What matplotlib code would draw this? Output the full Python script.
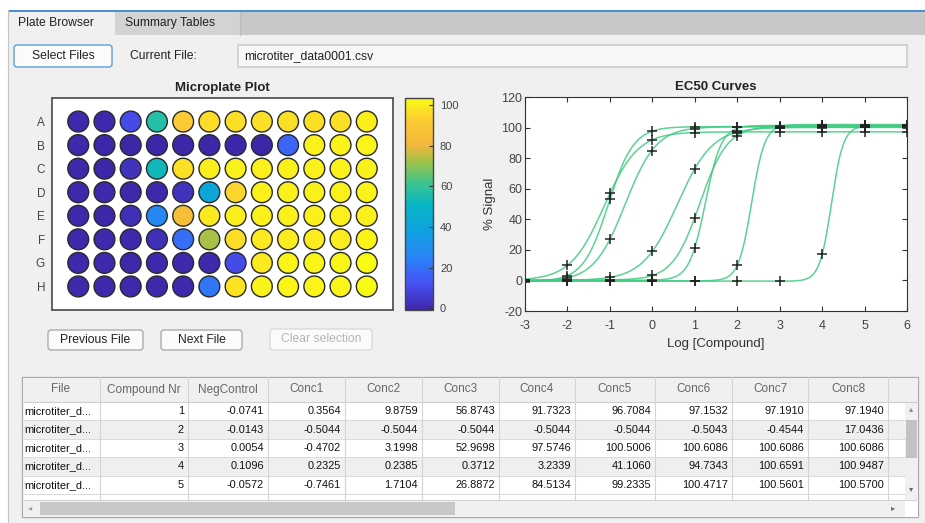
import numpy as np
import matplotlib
matplotlib.use("Agg")
import matplotlib.pyplot as plt
from matplotlib.colors import LinearSegmentedColormap
from matplotlib.patches import Rectangle, FancyBboxPatch

plt.rcParams['font.family'] = ['Liberation Sans', 'DejaVu Sans']
plt.rcParams['axes.unicode_minus'] = False

# ---- values ----
rows = ['A', 'B', 'C', 'D', 'E', 'F', 'G', 'H']
log_conc = [-3, -2, -1, 0, 1, 2, 3, 4, 5, 6]
compound_nr = [1, 2, 3, 4, 5, 6, 7, 8]

neg_control = [-0.0741, -0.0143, 0.0054, 0.1096, -0.0572, 0.2100, -0.1200, 0.0800]
conc = [
    [0.3564, 9.8759, 56.8743, 91.7323, 96.7084, 97.1532, 97.1910, 97.1940, 97.1942, 97.1942],
    [-0.5044, -0.5044, -0.5044, -0.5044, -0.5044, -0.5043, -0.4544, 17.0436, 100.6000, 101.1000],
    [-0.4702, 3.1998, 52.9698, 97.5746, 100.5006, 100.6086, 100.6086, 100.6086, 100.6086, 100.6086],
    [0.2325, 0.2385, 0.3712, 3.2339, 41.1060, 94.7343, 100.6591, 100.9487, 100.9512, 100.9513],
    [-0.7461, 1.7104, 26.8872, 84.5134, 99.2335, 100.4717, 100.5601, 100.5700, 100.5701, 100.5701],
    [0.0500, 0.3100, 2.0000, 19.3000, 73.1000, 96.5000, 99.6000, 100.0000, 100.1000, 100.1000],
    [-0.3000, -0.3000, -0.3000, -0.3000, -0.2000, 10.2000, 99.4000, 101.9000, 102.0000, 102.0000],
    [0.1000, 0.1000, 0.1000, 0.3000, 21.4000, 97.8000, 101.2000, 101.4000, 101.4000, 101.4000],
]
pos_control = [100.4, 101.8, 100.9, 101.2, 100.7, 101.5, 103.4, 102.6]

# 4-parameter logistic fits as they appear on the EC50 plot
fit_bottom = [0.0, -0.5, -0.5, 0.23, -0.75, 0.0, -0.3, 0.1]
fit_top = [97.2, 101.1, 100.6, 101.0, 100.6, 100.1, 102.0, 101.4]
fit_logec50 = [-1.136, 4.22, -1.034, 1.123, -0.639, 0.593, 2.34, 1.25]
fit_hill = [1.095, 3.1, 1.47, 1.347, 1.179, 1.061, 2.8, 2.3]

table_cols = ['File', 'Compound Nr', 'NegControl', 'Conc1', 'Conc2', 'Conc3',
              'Conc4', 'Conc5', 'Conc6', 'Conc7', 'Conc8']
table_nrows = 5
file_short = 'microtiter_d...'
current_file = 'microtiter_data0001.csv'

# parula-like colormap
parula = LinearSegmentedColormap.from_list('parula', [
    (0.00, (0.2422, 0.1504, 0.6603)), (0.125, (0.2810, 0.3228, 0.9579)),
    (0.25, (0.1540, 0.5220, 0.9660)), (0.375, (0.0590, 0.6330, 0.8740)),
    (0.50, (0.0290, 0.7130, 0.7640)), (0.60, (0.2450, 0.7700, 0.5500)),
    (0.70, (0.6200, 0.7600, 0.2800)), (0.78, (0.9600, 0.7200, 0.2400)),
    (0.90, (0.9900, 0.8000, 0.2000)), (1.00, (0.9769, 0.9839, 0.0805))])

W, H = 925, 523
fig = plt.figure(figsize=(W / 100, H / 100), dpi=100, facecolor='white')

# background "window" drawn in pixel coordinates
bg = fig.add_axes([0, 0, 1, 1])
bg.set_xlim(0, W)
bg.set_ylim(H, 0)
bg.axis('off')


def box(x0, y0, x1, y1, **kw):
    bg.add_patch(Rectangle((x0, y0), x1 - x0, y1 - y0, **kw))


def button(x0, y0, x1, y1, label, edge='#adadad', tc='#222222'):
    bg.add_patch(FancyBboxPatch((x0, y0), x1 - x0, y1 - y0,
                                boxstyle='round,pad=0,rounding_size=3',
                                fc='#fbfbfb', ec=edge, lw=1.0))
    bg.text((x0 + x1) / 2, (y0 + y1) / 2, label, ha='center', va='center',
            fontsize=8.7, color=tc)


def px_axes(x0, y0, x1, y1):
    return fig.add_axes([x0 / W, 1 - y1 / H, (x1 - x0) / W, (y1 - y0) / H])


box(8, 10, W, 12, fc='#4a8fd6', lw=0)
box(8, 12, W, 35, fc='#c8c8c8', lw=0)
box(115, 12, 240, 35, fc='#d3d3d3', lw=0)
bg.plot([240, 240], [12, 35], color='#bdbdbd', lw=0.8)
box(8, 12, 115, 36, fc='#f0f0f0', lw=0)
box(8, 35, W, H, fc='#f0f0f0', lw=0)
bg.plot([8, 8], [10, H], color='#c4c4c4', lw=0.8)
bg.text(18, 23, 'Plate Browser', fontsize=8.7, va='center', color='#222222')
bg.text(125, 23, 'Summary Tables', fontsize=8.7, va='center', color='#222222')

button(14, 45, 112, 67, 'Select Files', edge='#5a9fe0')
bg.text(130, 56, 'Current File:', fontsize=8.7, va='center', color='#222222')
box(238, 45, 907, 67, fc='#f7f7f7', ec='#d2d2d2', lw=1.4)
bg.text(244, 56, current_file, fontsize=8.7, va='center', color='#222222')

button(48, 330, 143, 350, 'Previous File')
button(161, 330, 242, 350, 'Next File')
button(270, 329, 372, 350, 'Clear selection', edge='#dadada', tc='#b4b4b4')

# ---- microplate ----
ax_p = px_axes(52, 98, 393, 310)
plate = np.column_stack([neg_control, np.array(conc), pos_control])
xx, yy = np.meshgrid(np.arange(1, 13), np.arange(1, len(rows) + 1))
sc = ax_p.scatter(xx.ravel(), yy.ravel(), c=plate.ravel(), cmap=parula,
                  s=225, edgecolors='#2a2a2a', linewidths=1.0)
ax_p.set_xlim(0, 13)
ax_p.set_ylim(9, 0)
ax_p.set_xticks([])
ax_p.set_yticks(range(1, len(rows) + 1))
ax_p.set_yticklabels(rows)
ax_p.tick_params(axis='y', length=0, pad=5, labelsize=8.5, labelcolor='#444444')
for s in ax_p.spines.values():
    s.set_color('#555555')
    s.set_linewidth(1.3)
ax_p.set_title('Microplate Plot', fontsize=9.5, fontweight='bold', pad=5, color='#222222')

cax = px_axes(405, 98, 433, 310)
cb = fig.colorbar(sc, cax=cax)
cb.set_ticks([0, 20, 40, 60, 80, 100])
cax.tick_params(direction='in', length=3, width=0.8, pad=5, labelsize=8,
                labelcolor='#444444', color='#333333')
cb.outline.set_edgecolor('#444444')
cb.outline.set_linewidth(1.0)

# ---- EC50 curves ----
ax_c = px_axes(525, 97, 907, 311)
xs = np.linspace(-3, 6, 500)
for i in range(len(compound_nr)):
    ys = fit_bottom[i] + (fit_top[i] - fit_bottom[i]) / (1 + 10 ** ((fit_logec50[i] - xs) * fit_hill[i]))
    ax_c.plot(xs, ys, color='#3fcb80', lw=1.1, alpha=0.85)
for i in range(len(compound_nr)):
    ax_c.plot(log_conc, conc[i], '+', color='#222222', ms=7, mew=1.1)
ax_c.set_xlim(-3, 6)
ax_c.set_ylim(-20, 120)
ax_c.set_xticks(range(-3, 7))
ax_c.set_yticks(range(-20, 121, 20))
ax_c.tick_params(direction='in', top=True, right=True, length=3.5, width=0.8,
                 labelsize=9, labelcolor='#444444', color='#333333')
ax_c.tick_params(axis='x', pad=6.5)
ax_c.tick_params(axis='y', pad=2)
for s in ax_c.spines.values():
    s.set_color('#333333')
    s.set_linewidth(0.8)
ax_c.set_xlabel('Log [Compound]', fontsize=9.5, color='#333333', labelpad=4)
ax_c.set_ylabel('% Signal', fontsize=9.5, color='#333333', labelpad=4)
ax_c.set_title('EC50 Curves', fontsize=9.5, fontweight='bold', pad=5, color='#222222')

# ---- data table ----
col_edges = [22, 100, 188, 268, 345, 422, 499, 575, 655, 732, 808, 888]
tab_top, head_bot, row_h = 377, 402, 18.4
box(22, tab_top, 918, 517, fc='white', ec='#a8a8a8', lw=0.9)
box(22.5, tab_top + 0.5, 917.5, head_bot, fc='#f0f0f0', lw=0)
bg.plot([22, 918], [head_bot, head_bot], color='#cfcfcf', lw=0.8)
for i in range(table_nrows):
    y0 = head_bot + i * row_h
    if i % 2 == 1:
        box(22.5, y0, 905, y0 + row_h, fc='#efefef', lw=0)
    bg.plot([22, 905], [y0 + row_h, y0 + row_h], color='#dadada', lw=0.7)
for xe in col_edges[1:]:
    bg.plot([xe, xe], [tab_top, 500], color='#d4d4d4', lw=0.8)
for j, name in enumerate(table_cols):
    bg.text((col_edges[j] + col_edges[j + 1]) / 2, (tab_top + head_bot) / 2, name,
            ha='center', va='center', fontsize=8.5, color='#666666')
for i in range(table_nrows):
    yc = head_bot + (i + 0.5) * row_h
    bg.text(col_edges[0] + 2, yc, file_short, va='center', fontsize=7.9, color='#111111')
    bg.text(col_edges[2] - 4, yc, str(compound_nr[i]), ha='right', va='center',
            fontsize=7.9, color='#111111')
    vals = [neg_control[i]] + conc[i][:8]
    for j, v in enumerate(vals):
        bg.text(col_edges[j + 3] - 4, yc, '%.4f' % v, ha='right', va='center',
                fontsize=7.9, color='#111111')

# scrollbars
box(905, head_bot, 918, 500, fc='#f0f0f0', lw=0)
box(906, 420, 917, 458, fc='#c2c2c2', lw=0)
bg.text(911.5, 410, '\u25b4', ha='center', va='center', fontsize=6, color='#8a8a8a')
bg.text(911.5, 490, '\u25be', ha='center', va='center', fontsize=6, color='#6a6a6a')
box(22.5, 500, 905, 516.5, fc='#f0f0f0', lw=0)
box(40, 502, 455, 515, fc='#c8c8c8', lw=0)
bg.text(30, 508.5, '\u25c2', ha='center', va='center', fontsize=6, color='#a0a0a0')
bg.text(893, 508.5, '\u25b8', ha='center', va='center', fontsize=6, color='#6a6a6a')
box(905, 500, 917.5, 516.5, fc='white', lw=0)
bg.plot([22, 918], [500, 500], color='#d4d4d4', lw=0.8)

fig.savefig('out.png', dpi=100)
